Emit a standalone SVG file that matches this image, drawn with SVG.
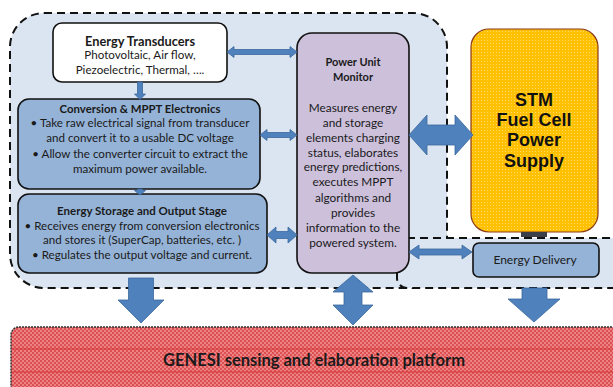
<svg xmlns="http://www.w3.org/2000/svg" width="613" height="387" viewBox="0 0 613 387">
<style>
.cont{fill:#dbe5f1;stroke:#111;stroke-width:2;stroke-dasharray:8 5}
.box{stroke:#111;stroke-width:1.6}
.arr{fill:#4f81bd;stroke:#3b679c;stroke-width:0.8}
.t{font-family:Lato,"Open Sans",sans-serif;fill:#1a1a1a;text-anchor:middle}
.h{font-weight:bold}
.b{font-size:11.6px}
.m{font-size:11.8px}
.s{font-family:"Liberation Sans",Arial,sans-serif;font-weight:bold;font-size:18px;fill:#111;text-anchor:middle}
</style>
<defs>
<pattern id="dots" width="3" height="3" patternUnits="userSpaceOnUse">
<rect width="3" height="3" fill="#ffc000"/>
<rect x="1" y="1" width="1" height="1" fill="#ffd966"/>
</pattern>
<pattern id="red" width="4" height="4" patternUnits="userSpaceOnUse">
<rect width="4" height="4" fill="#ec8284"/>
<rect x="0" y="0" width="2" height="2" fill="#dc5052"/>
<rect x="2" y="2" width="2" height="2" fill="#dc5052"/>
</pattern>
</defs>

<g id="containers">
<rect class="cont" x="10" y="13" width="437" height="275" rx="34"/>
<rect class="cont" x="397" y="238" width="230" height="50" rx="10"/>
</g>

<g id="transducers">
<rect class="box" x="53" y="23" width="174" height="59" rx="9" fill="#ffffff"/>
<text class="t h" x="140" y="46" font-size="12.8">Energy Transducers</text>
<text class="t b" x="140" y="59">Photovoltaic, Air flow,</text>
<text class="t b" x="140" y="74">Piezoelectric, Thermal, ….</text>
</g>

<g id="conversion">
<rect class="box" x="18" y="99" width="242" height="90" rx="11" fill="#95b3d7"/>
<text class="t h" x="140" y="113" font-size="11.4">Conversion &amp; MPPT Electronics</text>
<text class="t b" x="140" y="127">• Take raw electrical signal from transducer</text>
<text class="t b" x="140" y="142">and convert it to a usable  DC voltage</text>
<text class="t b" x="140" y="158">• Allow the converter circuit  to extract the</text>
<text class="t b" x="140" y="173">maximum power available.</text>
</g>

<g id="storage">
<rect class="box" x="18" y="194" width="249" height="79" rx="11" fill="#95b3d7"/>
<text class="t h" x="142" y="215" font-size="11.5">Energy Storage and Output Stage</text>
<text class="t b" x="142" y="230">• Receives energy from conversion electronics</text>
<text class="t b" x="142" y="244">and stores it (SuperCap, batteries, etc. )</text>
<text class="t b" x="142" y="259">• Regulates the output voltage and current.</text>
</g>

<g id="monitor">
<rect class="box" x="297" y="33" width="112" height="240" rx="15" fill="#ccc0da"/>
<text class="t h" x="353" y="66" font-size="11">Power Unit</text>
<text class="t h" x="353" y="81" font-size="11">Monitor</text>
<text class="t m" x="353" y="112">Measures energy</text>
<text class="t m" x="353" y="127">and storage</text>
<text class="t m" x="353" y="142">elements charging</text>
<text class="t m" x="353" y="157">status, elaborates</text>
<text class="t m" x="353" y="171">energy predictions,</text>
<text class="t m" x="353" y="186">executes MPPT</text>
<text class="t m" x="353" y="202">algorithms and</text>
<text class="t m" x="353" y="217">provides</text>
<text class="t m" x="353" y="232">information to the</text>
<text class="t m" x="353" y="247">powered system.</text>
</g>

<g id="fuelcell">
<rect x="471" y="29" width="127" height="203" rx="18" fill="url(#dots)" stroke="#8b3a1a" stroke-width="1.2"/>
<rect x="521" y="232" width="26" height="5" fill="#3a3f4a"/>
<text class="s" x="534" y="106">STM</text>
<text class="s" x="534" y="126">Fuel Cell</text>
<text class="s" x="534" y="146">Power</text>
<text class="s" x="534" y="167">Supply</text>
</g>

<g id="delivery">
<rect class="box" x="473" y="243" width="126" height="34" rx="6" fill="#95b3d7"/>
<text class="t" x="535" y="264" font-size="12">Energy  Delivery</text>
</g>

<g id="genesi">
<rect x="11" y="327" width="615" height="70" rx="8" fill="url(#red)" stroke="#333" stroke-width="1.5" stroke-dasharray="2 1"/>
<line x1="12" y1="349" x2="613" y2="349" stroke="#d02828" stroke-width="0.8"/>
<line x1="12" y1="372" x2="613" y2="372" stroke="#d02828" stroke-width="0.8"/>
<text class="t h" x="314" y="366" font-size="16.5" fill="#111">GENESI sensing and elaboration platform</text>
</g>

<g id="connectors">
<path class="arr" d="M137.5,82 H142.5 V94 H145.5 L140,99.5 L134.5,94 H137.5 Z"/>
<path class="arr" d="M137.5,189 H142.5 V190.5 H145.5 L140,195 L134.5,190.5 H137.5 Z"/>
<path class="arr" d="M227,52 L234,46.5 V49.5 H290 V46.5 L297,52 L290,57.5 V54.5 H234 V57.5 Z"/>
<path class="arr" d="M260,135 L267,129.5 V132.5 H290 V129.5 L297,135 L290,140.5 V137.5 H267 V140.5 Z"/>
<path class="arr" d="M267,235 L276,227 V231.5 H288 V227 L297,235 L288,243 V238.5 H276 V243 Z"/>
<path class="arr" d="M409,135 L427,115 V125 H455 V115 L473,135 L455,155 V145 H427 V155 Z"/>
<path class="arr" d="M409,252 L419,245 V249 H462 V245 L472,252 L462,259 V255 H419 V259 Z"/>
<path class="arr" d="M128.5,278 H153.5 V300 H164 L141,323 L118,300 H128.5 Z"/>
<path class="arr" d="M353,275 L373,292 H362 V305 H373 L353,325 L333,305 H344 V292 H333 Z"/>
<path class="arr" d="M522,288 H547 V299 H560 L534,322 L508,299 H522 Z"/>
</g>
</svg>
